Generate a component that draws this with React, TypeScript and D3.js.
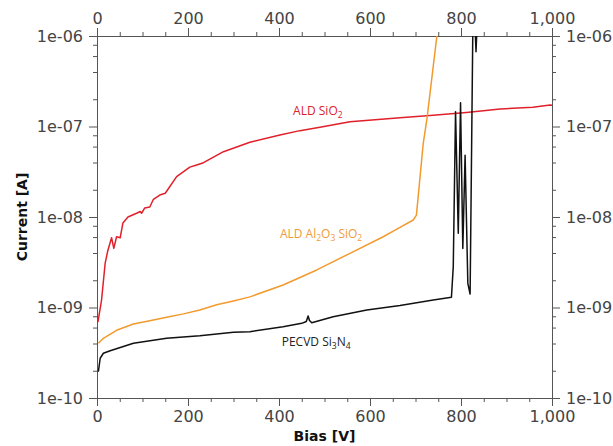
import { useEffect, useRef } from 'react';
import * as d3 from 'd3';

const aldSiO2Bias = [2, 10, 18, 24, 32, 37, 43, 51, 57, 68, 87, 95, 98, 105, 116, 124, 138, 150, 175, 204, 219, 234, 278, 336, 402, 446, 490, 556, 666, 732, 812, 886, 958, 996, 1000];
const aldSiO2Current = [6.9e-10, 1.21e-9, 3.1e-9, 4.3e-9, 5.9e-9, 4.5e-9, 6.05e-9, 5.9e-9, 8.6e-9, 1.0e-8, 1.1e-8, 1.15e-8, 1.1e-8, 1.26e-8, 1.29e-8, 1.57e-8, 1.75e-8, 1.83e-8, 2.79e-8, 3.56e-8, 3.76e-8, 3.98e-8, 5.27e-8, 6.7e-8, 8.05e-8, 9.0e-8, 9.8e-8, 1.13e-7, 1.25e-7, 1.32e-7, 1.43e-7, 1.56e-7, 1.63e-7, 1.73e-7, 1.72e-7];

const alOxBias = [3, 14, 43, 80, 116, 153, 190, 226, 263, 300, 336, 409, 483, 556, 629, 658, 695, 702, 717, 725, 747, 752];
const alOxCurrent = [4.03e-10, 4.57e-10, 5.6e-10, 6.57e-10, 7.15e-10, 7.8e-10, 8.5e-10, 9.4e-10, 1.07e-9, 1.18e-9, 1.31e-9, 1.77e-9, 2.6e-9, 3.97e-9, 6.05e-9, 7.3e-9, 9.27e-9, 1.05e-8, 6.5e-8, 1.2e-7, 1.0e-6, 1.2e-6];

const sinBias = [3, 7, 14, 29, 80, 153, 226, 300, 336, 409, 450, 460, 464, 467, 472, 519, 593, 666, 739, 779, 783, 788, 794, 799, 804, 809, 815, 820, 826, 831, 833, 835];
const sinCurrent = [1.95e-10, 2.75e-10, 3.12e-10, 3.33e-10, 4.02e-10, 4.57e-10, 4.88e-10, 5.32e-10, 5.4e-10, 6.14e-10, 6.68e-10, 7.0e-10, 8.05e-10, 7.2e-10, 6.79e-10, 7.92e-10, 9.37e-10, 1.05e-9, 1.21e-9, 1.3e-9, 2.83e-9, 1.46e-7, 6.6e-9, 1.83e-7, 4.5e-9, 4.8e-8, 1.85e-9, 1.41e-9, 1.2e-6, 1.2e-6, 6.7e-7, 1.2e-6];

const xTicks = [0, 200, 400, 600, 800, 1000];
const yTicks = [1e-10, 1e-9, 1e-8, 1e-7, 1e-6];

const series = [
  { name: 'ALD SiO2', x: aldSiO2Bias, y: aldSiO2Current, color: '#e0202a' },
  { name: 'ALD Al2O3 SiO2', x: alOxBias, y: alOxCurrent, color: '#f29a2e' },
  { name: 'PECVD Si3N4', x: sinBias, y: sinCurrent, color: '#111111' },
];

// label parts: [text, subscript?]
const labels = [
  { parts: [['ALD SiO', false], ['2', true]], x: 431, y: 1.34e-7, color: '#d9232d' },
  { parts: [['ALD Al', false], ['2', true], ['O', false], ['3', true], [' SiO', false], ['2', true]], x: 402, y: 5.86e-9, color: '#ef9a3a' },
  { parts: [['PECVD Si', false], ['3', true], ['N', false], ['4', true]], x: 406, y: 3.76e-10, color: '#222222' },
];

export default function App() {
  const svgRef = useRef(null);
  const width = 613;
  const height = 446;

  useEffect(() => {
    const svg = d3.select(svgRef.current);
    svg.selectAll('*').remove();

    const margin = { top: 36, right: 61, bottom: 48, left: 97 };
    const w = width - margin.left - margin.right;
    const h = height - margin.top - margin.bottom;

    const g = svg.append('g').attr('transform', `translate(${margin.left},${margin.top})`);

    const x = d3.scaleLinear().domain([0, 1000]).range([0, w]);
    const y = d3.scaleLog().domain([1e-10, 1e-6]).range([h, 0]);

    const minorX = d3.range(0, 1001, 50).filter(v => v % 200 !== 0);
    const minorY = [];
    for (let e = -10; e < -6; e++) for (const m of [2, 4, 6, 8]) minorY.push(m * Math.pow(10, e));

    const fmtX = d3.format(',');
    const fmtY = d => `1e-${String(-Math.round(Math.log10(d))).padStart(2, '0')}`;

    const axisColor = '#555';
    const labelColor = '#444';

    const drawAxis = (axis, transform) => {
      const a = g.append('g').attr('transform', transform).call(axis);
      a.select('.domain').attr('stroke', axisColor);
      a.selectAll('line').attr('stroke', axisColor);
      a.selectAll('text').attr('fill', labelColor).attr('font-size', 16).attr('font-family', 'DejaVu Sans');
      return a;
    };

    // major axes
    drawAxis(d3.axisBottom(x).tickValues(xTicks).tickFormat(fmtX).tickSize(8).tickSizeOuter(0).tickPadding(5), `translate(0,${h})`);
    drawAxis(d3.axisTop(x).tickValues(xTicks).tickFormat(fmtX).tickSize(8).tickSizeOuter(0).tickPadding(4), 'translate(0,0)');
    drawAxis(d3.axisLeft(y).tickValues(yTicks).tickFormat(fmtY).tickSize(8).tickSizeOuter(0).tickPadding(6), 'translate(0,0)');
    drawAxis(d3.axisRight(y).tickValues(yTicks).tickFormat(fmtY).tickSize(8).tickSizeOuter(0).tickPadding(6), `translate(${w},0)`);

    // minor ticks
    drawAxis(d3.axisBottom(x).tickValues(minorX).tickFormat(() => '').tickSize(4).tickSizeOuter(0), `translate(0,${h})`);
    drawAxis(d3.axisTop(x).tickValues(minorX).tickFormat(() => '').tickSize(4).tickSizeOuter(0), 'translate(0,0)');
    drawAxis(d3.axisLeft(y).tickValues(minorY).tickFormat(() => '').tickSize(4).tickSizeOuter(0), 'translate(0,0)');
    drawAxis(d3.axisRight(y).tickValues(minorY).tickFormat(() => '').tickSize(4).tickSizeOuter(0), `translate(${w},0)`);

    // clip
    svg.append('defs').append('clipPath').attr('id', 'plot-clip')
      .append('rect').attr('width', w).attr('height', h);

    const line = d3.line().x(d => x(d[0])).y(d => y(d[1]));

    series.forEach(s => {
      g.append('path')
        .datum(s.x.map((v, i) => [v, s.y[i]]))
        .attr('clip-path', 'url(#plot-clip)')
        .attr('fill', 'none')
        .attr('stroke', s.color)
        .attr('stroke-width', 1.5)
        .attr('stroke-linejoin', 'round')
        .attr('d', line);
    });

    // annotations
    labels.forEach(l => {
      const t = g.append('text')
        .attr('x', x(l.x))
        .attr('y', y(l.y))
        .attr('fill', l.color)
        .attr('font-family', 'Open Sans')
        .attr('font-size', 12);
      let sub = false;
      l.parts.forEach(([txt, isSub]) => {
        const dy = isSub && !sub ? 3 : !isSub && sub ? -3 : 0;
        t.append('tspan')
          .attr('dy', dy)
          .attr('font-size', isSub ? 8.5 : 12)
          .text(txt);
        sub = isSub;
      });
    });

    // axis titles
    svg.append('text')
      .attr('x', margin.left + w / 2)
      .attr('y', 441)
      .attr('text-anchor', 'middle')
      .attr('font-family', 'DejaVu Sans')
      .attr('font-weight', 'bold')
      .attr('font-size', 14)
      .attr('fill', '#111')
      .text('Bias [V]');

    svg.append('text')
      .attr('transform', `translate(27,${margin.top + h / 2}) rotate(-90)`)
      .attr('text-anchor', 'middle')
      .attr('font-family', 'DejaVu Sans')
      .attr('font-weight', 'bold')
      .attr('font-size', 14)
      .attr('fill', '#111')
      .text('Current [A]');
  }, []);

  return (
    <svg
      ref={svgRef}
      width={width}
      height={height}
      style={{ position: 'absolute', left: 0, top: 0, background: '#fff' }}
    />
  );
}
